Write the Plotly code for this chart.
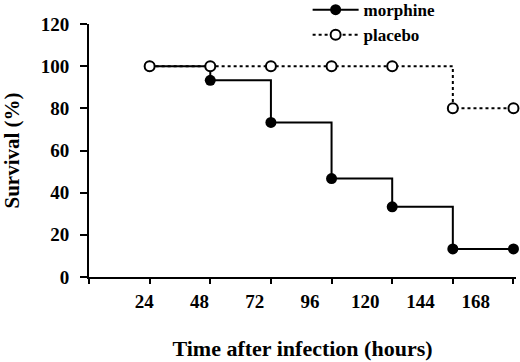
import plotly.graph_objects as go

hours = [24, 48, 72, 96, 120, 144, 168]
morphine = [100, 93.3, 73.3, 46.7, 33.3, 13.3, 13.3]
placebo = [100, 100, 100, 100, 100, 80, 80]
x_tickmarks = [0, 24, 48, 72, 96, 120, 144, 168]
x_labelvals = [24, 48, 72, 96, 120, 144, 168]
x_ticktext = ["24", "48", "72", "96", "120", "144", "168"]
y_tickvals = [0, 20, 40, 60, 80, 100, 120]

FONT = "Liberation Serif, Times New Roman, serif"

fig = go.Figure()
fig.add_trace(go.Scatter(
    x=hours, y=morphine, name="morphine", mode="lines+markers",
    line=dict(color="black", width=2, shape="hv"),
    marker=dict(color="black", size=11, symbol="circle"),
    cliponaxis=False))
fig.add_trace(go.Scatter(
    x=hours, y=placebo, name="placebo", mode="lines+markers",
    line=dict(color="black", width=2, shape="hv", dash="dot"),
    marker=dict(color="white", size=10, symbol="circle",
                line=dict(color="black", width=2)),
    cliponaxis=False))
# empty trace so the label axis (x2) is drawn
fig.add_trace(go.Scatter(x=[], y=[], xaxis="x2", yaxis="y",
                         showlegend=False, hoverinfo="skip"))

fig.update_layout(
    width=520, height=362,
    margin=dict(l=89, r=4, t=24, b=85, autoexpand=False),
    plot_bgcolor="white", paper_bgcolor="white",
    font=dict(family=FONT, color="black", size=19, weight="bold"),
    showlegend=True,
    legend=dict(x=0.512, y=1.126, xref="paper", yref="paper",
                xanchor="left", yanchor="top", itemwidth=46,
                font=dict(size=17, family=FONT, weight="bold"),
                bgcolor="rgba(0,0,0,0)", tracegroupgap=0),
    xaxis=dict(range=[0, 169], tickmode="array", tickvals=x_tickmarks,
               showticklabels=False, showgrid=False, zeroline=False,
               showline=True, linecolor="black", linewidth=2,
               ticks="outside", ticklen=5, tickwidth=2, tickcolor="black",
               automargin=False),
    xaxis2=dict(range=[0, 185.5], overlaying="x", anchor="y", side="bottom",
                tickmode="array", tickvals=x_labelvals, ticktext=x_ticktext,
                showgrid=False, zeroline=False, showline=False, ticks="",
                automargin=False, ticklabelstandoff=11,
                ticklabeloverflow="allow",
                tickfont=dict(size=19, family=FONT, weight="bold"),
                title=dict(text="Time after infection (hours)",
                           font=dict(size=22, family=FONT, weight="bold"),
                           standoff=29)),
    yaxis=dict(range=[0, 120], tickmode="array", tickvals=y_tickvals,
               showgrid=False, zeroline=False,
               showline=True, linecolor="black", linewidth=2,
               ticks="outside", ticklen=7, tickwidth=2, tickcolor="black",
               automargin=False, ticklabelstandoff=7,
               tickfont=dict(size=19, family=FONT, weight="bold"),
               title=dict(text="Survival (%)",
                          font=dict(size=21, family=FONT, weight="bold"),
                          standoff=28)),
)

fig.write_html("out.html", config={"displayModeBar": False},
               post_script="document.body.style.margin='0px';")
